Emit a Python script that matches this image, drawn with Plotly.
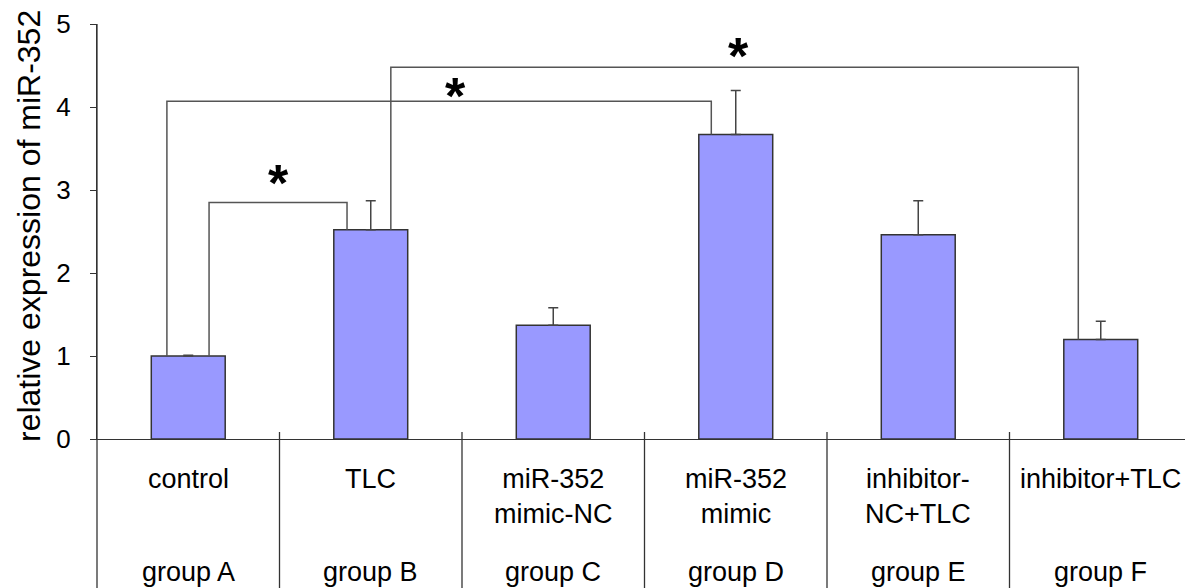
import plotly.graph_objects as go

# ---- data ----
categories = ["control", "TLC", "miR-352<br>mimic-NC", "miR-352<br>mimic",
              "inhibitor-<br>NC+TLC", "inhibitor+TLC"]
groups = ["group A", "group B", "group C", "group D", "group E", "group F"]
values = [1.0, 2.52, 1.37, 3.67, 2.46, 1.2]
errors = [0.01, 0.35, 0.21, 0.53, 0.41, 0.22]

# significance brackets: (from index, to index, bracket height, star height)
bracket_pairs = [(0, 1), (0, 3), (1, 5)]
bracket_heights = [2.85, 4.07, 4.48]
star_heights = [3.09, 4.13, 4.62]
star_labels = ["*", "*", "*"]

# ---- style ----
W, H = 1185, 588
ML, MT, MB = 97, 24, 149
plot_h = H - MT - MB
cat_px = 182.5
xmax = (W - ML) / cat_px - 0.5
BAR_COLOR = "#9999FF"
LINE = "#555555"
FONT = "Liberation Sans, Arial, sans-serif"
left_off = [0.114, -0.117, 0.11]
right_off = [-0.13, -0.134, -0.123]
star_dx = [0.0, 0.09, 0.02]

def py(pix):
    return (H - MB - pix) / plot_h

x = list(range(len(values)))

fig = go.Figure()
fig.add_trace(go.Bar(
    x=x, y=values, width=0.405,
    marker=dict(color=BAR_COLOR, line=dict(color="#333333", width=1.5)),
    error_y=dict(type="data", array=errors, arrayminus=[0] * len(errors),
                 symmetric=False, color="#444444", thickness=1.5, width=5),
    showlegend=False, hoverinfo="skip",
))

shapes = []
annotations = []

# brackets
for (a, b), h, lo, ro, sh, sl, dx in zip(bracket_pairs, bracket_heights, left_off,
                                          right_off, star_heights, star_labels, star_dx):
    xa = a + lo
    xb = b + ro
    pts = [(xa, values[a]), (xa, h), (xb, h), (xb, values[b])]
    path = "M " + " L ".join(f"{px},{pyv}" for px, pyv in pts)
    shapes.append(dict(type="path", path=path, xref="x", yref="y",
                       line=dict(color=LINE, width=1.5)))
    annotations.append(dict(x=(xa + xb) / 2 + dx, y=sh, xref="x", yref="y",
                            text=f"<b>{sl}</b>", showarrow=False,
                            font=dict(size=52, color="#000000", family=FONT),
                            yanchor="middle"))

# y axis line extension downward
shapes.append(dict(type="line", xref="paper", yref="paper", x0=0, x1=0,
                   y0=1, y1=py(H), line=dict(color="#333333", width=1.3)))
# category separators
for k in range(len(values) - 1):
    shapes.append(dict(type="line", xref="x", yref="paper", x0=k + 0.5, x1=k + 0.5,
                       y0=py(432), y1=py(H), line=dict(color="#333333", width=1.3)))

# category labels
for i, (c, g) in enumerate(zip(categories, groups)):
    annotations.append(dict(x=i, y=py(462), xref="x", yref="paper", text=c,
                            showarrow=False, yanchor="top",
                            font=dict(size=27, color="#000000", family=FONT)))
    annotations.append(dict(x=i, y=py(572), xref="x", yref="paper", text=g,
                            showarrow=False, yanchor="middle",
                            font=dict(size=27, color="#000000", family=FONT)))

# y title
annotations.append(dict(x=(29 - ML) / (W - ML), y=py(226), xref="paper", yref="paper",
                        text="relative expression of miR-352", textangle=-90,
                        showarrow=False, xanchor="center", yanchor="middle",
                        font=dict(size=32, color="#000000", family=FONT)))

fig.update_layout(
    width=W, height=H,
    margin=dict(l=ML, r=0, t=MT, b=MB, pad=0),
    plot_bgcolor="white", paper_bgcolor="white",
    shapes=shapes, annotations=annotations,
    xaxis=dict(range=[-0.5, xmax], showgrid=False, zeroline=False,
               showline=True, linecolor="#333333", linewidth=1.3,
               showticklabels=False, ticks="", fixedrange=True),
    yaxis=dict(range=[0, 5], tickvals=[0, 1, 2, 3, 4, 5], showgrid=False,
               zeroline=False, showline=True, linecolor="#333333", linewidth=1.3,
               ticks="outside", ticklen=6, tickcolor="#333333", tickwidth=1.3,
               ticklabelstandoff=14,
               tickfont=dict(size=26, color="#000000", family=FONT),
               fixedrange=True),
    bargap=0.5,
)

fig.write_html("out.html", config={"displayModeBar": False},
               post_script="document.body.style.margin='0';document.body.style.overflow='hidden';")
